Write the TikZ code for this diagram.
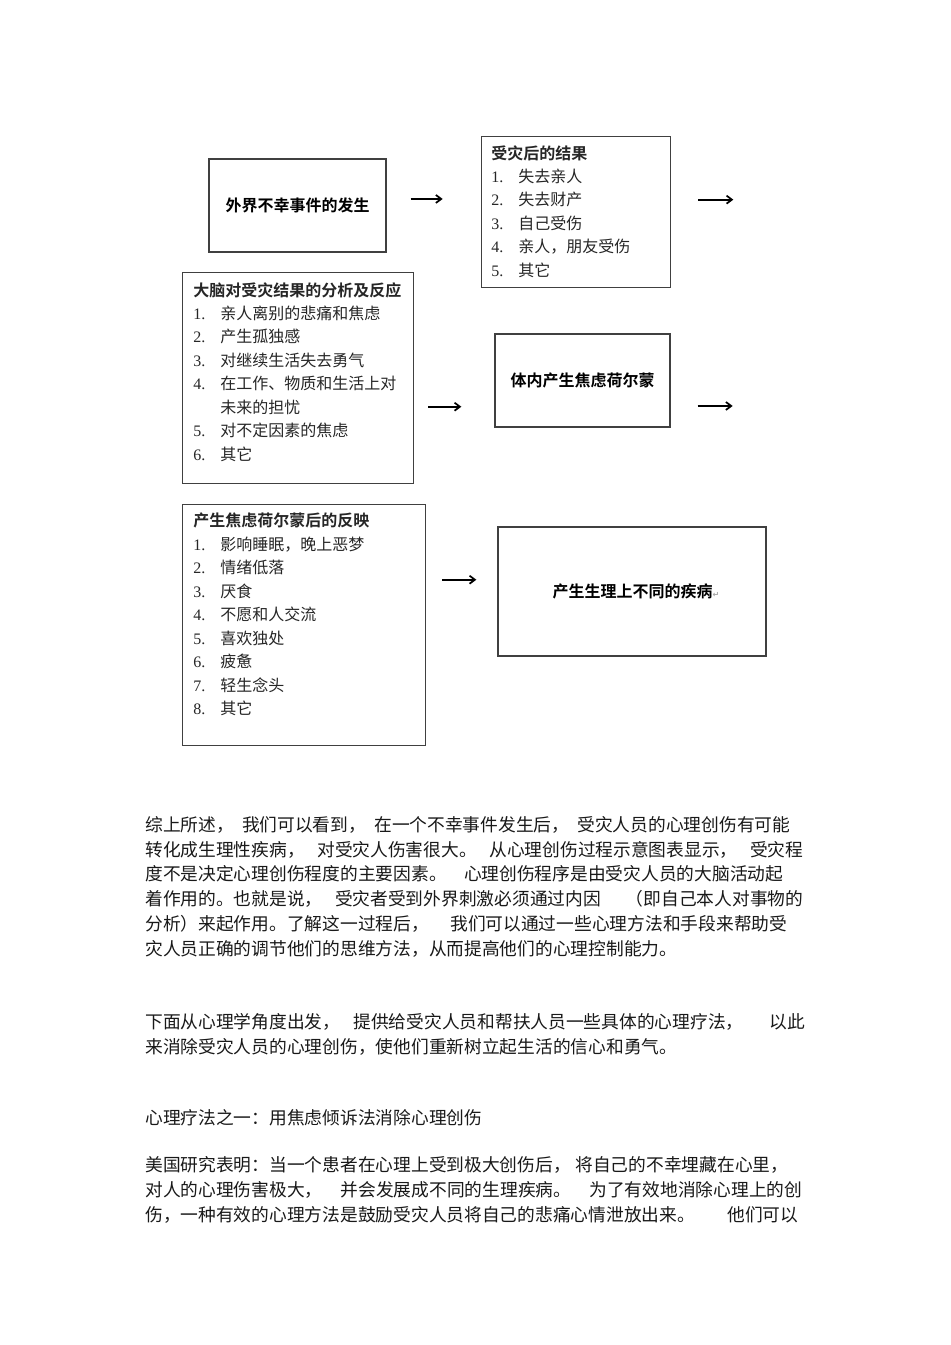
\documentclass[tikz,border=0pt]{standalone}
\usepackage{fontspec}
\setmainfont{Liberation Serif}
\newfontfamily\cjk[BoldFont={Noto Sans CJK SC Bold}]{Noto Sans CJK SC}
\newfontfamily\symfont{DejaVu Sans}
\usetikzlibrary{arrows.meta, positioning}

\newcommand{\itm}[2]{\makebox[20.25pt][l]{#1.}{\cjk #2}}

\begin{document}
\begin{tikzpicture}[x=0.75pt, y=-0.75pt,
    box/.style={rectangle, draw=black!75, line width=1pt, inner sep=0pt},
    list/.style={anchor=north west, inner sep=0pt, align=left, text=black!85,
        font=\fontsize{12}{17.6}\selectfont},
    head/.style={font=\cjk\bfseries\fontsize{12}{14}\selectfont, text=black},
    flow/.style={-{Straight Barb[length=4pt, width=6pt]}, line width=1.3pt},
    para/.style={anchor=west, inner sep=0pt, text=black!90,
        font=\cjk\fontsize{13.3}{15}\selectfont}
]

    \fill[white] (0,0) rectangle (950,1345);
    \useasboundingbox (0,0) rectangle (950,1345);

    % Boxes ------------------------------------------------------

    \node[box, head, minimum width=132.75pt, minimum height=69.75pt] (event) at (297.5,205.5) {外界不幸事件的发生};

    \node[box, minimum width=141.75pt, minimum height=113.25pt, anchor=north west] (result) at (481,136) {};
    \node[list] (resultl) at (491,145) {{\cjk\bfseries 受灾后的结果}\\
        \itm{1}{失去亲人}\\
        \itm{2}{失去财产}\\
        \itm{3}{自己受伤}\\
        \itm{4}{亲人，朋友受伤}\\
        \itm{5}{其它}};

    \node[box, minimum width=173.25pt, minimum height=158.25pt, anchor=north west] (brain) at (182,272) {};
    \node[list] (brainl) at (193,282) {{\cjk\bfseries 大脑对受灾结果的分析及反应}\\
        \itm{1}{亲人离别的悲痛和焦虑}\\
        \itm{2}{产生孤独感}\\
        \itm{3}{对继续生活失去勇气}\\
        \itm{4}{在工作、物质和生活上对}\\
        \hspace*{20.25pt}{\cjk 未来的担忧}\\
        \itm{5}{对不定因素的焦虑}\\
        \itm{6}{其它}};

    \node[box, head, minimum width=131.25pt, minimum height=69.75pt] (hormone) at (582.5,380.5) {体内产生焦虑荷尔蒙};

    \node[box, minimum width=182.25pt, minimum height=180.75pt, anchor=north west] (react) at (182,504) {};
    \node[list] (reactl) at (193,513) {{\cjk\bfseries 产生焦虑荷尔蒙后的反映}\\
        \itm{1}{影响睡眠，晚上恶梦}\\
        \itm{2}{情绪低落}\\
        \itm{3}{厌食}\\
        \itm{4}{不愿和人交流}\\
        \itm{5}{喜欢独处}\\
        \itm{6}{疲惫}\\
        \itm{7}{轻生念头}\\
        \itm{8}{其它}};

    \node[box, head, minimum width=201pt, minimum height=96.75pt] (disease) at (632,591.5) {\hspace{6pt}产生生理上不同的疾病{\symfont\fontsize{6}{6}\selectfont\color{black!35}↵}};

    % Arrows -----------------------------------------------------

    \draw[flow] ([xshift=18pt, yshift=4.9pt]event.east) -- ++(24pt,0);
    \draw[flow] ([xshift=20.25pt, yshift=9.4pt]result.east) -- ++(26.25pt,0);
    \draw[flow] ([xshift=10.5pt, yshift=-21.4pt]brain.east) -- ++(24.75pt,0);
    \draw[flow] ([xshift=20.25pt, yshift=-19.1pt]hormone.east) -- ++(26.25pt,0);
    \draw[flow] ([xshift=12pt, yshift=34.1pt]react.east) -- ++(25.5pt,0);

    % Text -------------------------------------------------------

    \node[para] (p1a) at (145,825) {\makebox[483.75pt][s]{综上所述，\hfill 我们可以看到，\hfill 在一个不幸事件发生后，\hfill 受灾人员的心理创伤有可能}};
    \node[para] (p1b) at (145,850) {\makebox[493.5pt][s]{转化成生理性疾病，\hfill 对受灾人伤害很大。\hfill 从心理创伤过程示意图表显示，\hfill 受灾程}};
    \node[para] (p1c) at (145,874) {\makebox[478.5pt][s]{度不是决定心理创伤程度的主要因素。\hfill 心理创伤程序是由受灾人员的大脑活动起}};
    \node[para] (p1d) at (145,899) {\makebox[493.5pt][s]{着作用的。也就是说，\hfill 受灾者受到外界刺激必须通过内因\hfill\hfill （即自己本人对事物的}};
    \node[para] (p1e) at (145,924) {\makebox[481.5pt][s]{分析）来起作用。了解这一过程后，\hfill 我们可以通过一些心理方法和手段来帮助受}};
    \node[para] (p1f) at (145,949) {灾人员正确的调节他们的思维方法，从而提高他们的心理控制能力。};

    \node[para] (p2a) at (145,1022) {\makebox[495pt][s]{下面从心理学角度出发，\hfill 提供给受灾人员和帮扶人员一些具体的心理疗法，\hfill\hfill 以此}};
    \node[para] (p2b) at (145,1047) {来消除受灾人员的心理创伤，使他们重新树立起生活的信心和勇气。};

    \node[para] (p3) at (145,1118) {心理疗法之一：用焦虑倾诉法消除心理创伤};

    \node[para] (p4a) at (145,1165) {\makebox[482.25pt][s]{美国研究表明：当一个患者在心理上受到极大创伤后，\hfill 将自己的不幸埋藏在心里，}};
    \node[para] (p4b) at (145,1190) {\makebox[492.75pt][s]{对人的心理伤害极大，\hfill 并会发展成不同的生理疾病。\hfill 为了有效地消除心理上的创}};
    \node[para] (p4c) at (145,1215) {\makebox[489.75pt][s]{伤，一种有效的心理方法是鼓励受灾人员将自己的悲痛心情泄放出来。\hfill 他们可以}};

\end{tikzpicture}
\end{document}
